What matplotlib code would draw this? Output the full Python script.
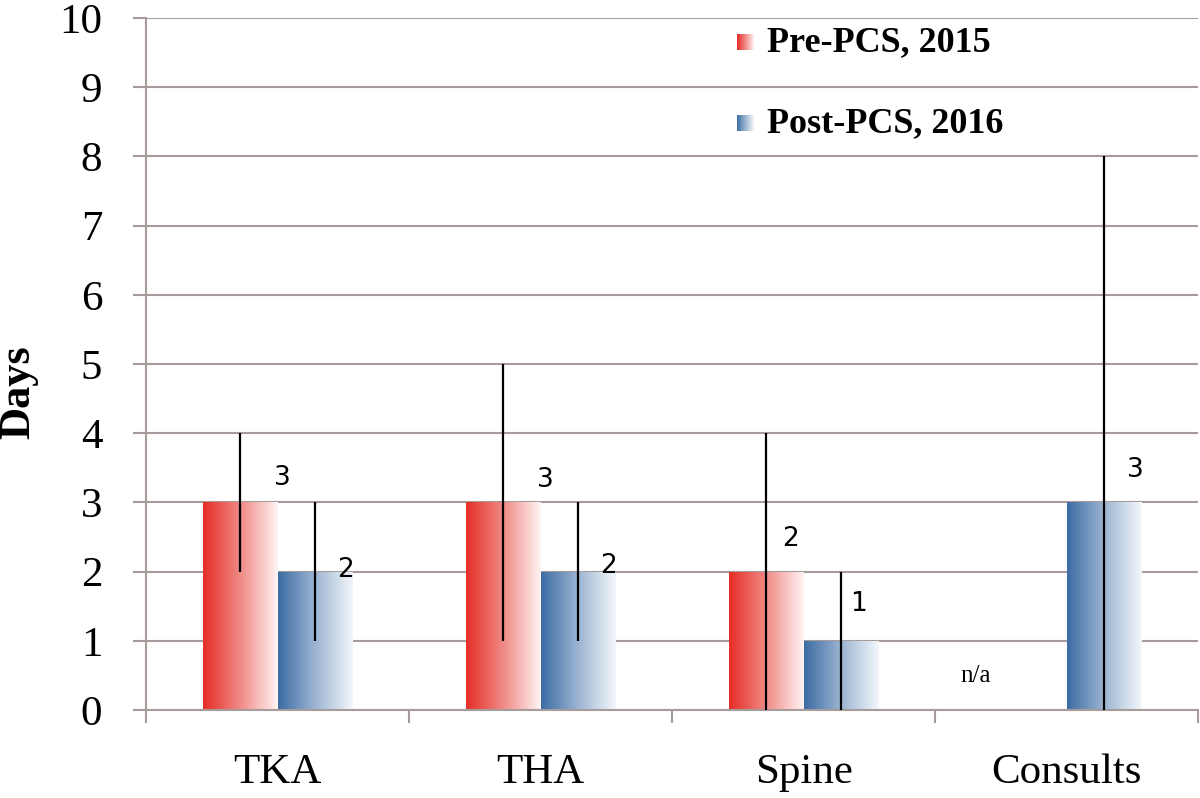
import numpy as np
import matplotlib
matplotlib.use("Agg")
import matplotlib.pyplot as plt
from matplotlib.colors import LinearSegmentedColormap

# data
categories = ["TKA", "THA", "Spine", "Consults"]
pre_vals = [3, 3, 2, np.nan]
post_vals = [2, 2, 1, 3]
pre_low = [2, 1, 0, np.nan]
pre_high = [4, 5, 4, np.nan]
post_low = [1, 1, 0, 0]
post_high = [3, 3, 2, 8]
pre_labels = ["3", "3", "2", "n/a"]
post_labels = ["2", "2", "1", "3"]

# where the value labels sit (hand placed in the original)
pre_lab_dx = [0.02, 0.02, -0.05, -0.344]
pre_lab_y = [3.35, 3.32, 2.47, 0.49]
post_lab_dx = [0.26, 0.26, 0.21, 0.26]
post_lab_y = [2.03, 2.08, 1.53, 3.47]

red_cmap = LinearSegmentedColormap.from_list("r", ["#e62d26", "#f08a86", "#fff4f4"])
blue_cmap = LinearSegmentedColormap.from_list("b", ["#3c6ca4", "#9db5d2", "#f4f7fb"])
grad = np.linspace(0, 1, 256).reshape(1, -1)

serif = ["Liberation Serif", "DejaVu Serif"]
grid_col = "#a89c9a"

fig = plt.figure(figsize=(12, 7.98), dpi=100)
ax = fig.add_axes([0.1217, 0.1103, 0.8767, 0.8671])

x = np.arange(len(categories))
w = 0.285


def grad_bars(xpos, vals, cmap):
    bars = ax.bar(xpos, vals, w, color="none", edgecolor="none", zorder=2)
    for b, v in zip(bars, vals):
        if np.isnan(v):
            continue
        im = ax.imshow(grad, cmap=cmap, aspect="auto", zorder=2,
                       extent=[b.get_x(), b.get_x() + b.get_width(), 0, v])
        im.set_clip_path(b)
    return bars


grad_bars(x - w / 2, pre_vals, red_cmap)
grad_bars(x + w / 2, post_vals, blue_cmap)

# range lines
ax.vlines(x - w / 2, pre_low, pre_high, color="black", lw=1.6, zorder=3)
ax.vlines(x + w / 2, post_low, post_high, color="black", lw=1.6, zorder=3)

for i in range(len(categories)):
    if pre_labels[i] == "n/a":
        ax.text(x[i] + pre_lab_dx[i], pre_lab_y[i], "n/a", ha="center", va="center",
                fontsize=18, family=serif, zorder=4)
    else:
        ax.text(x[i] + pre_lab_dx[i], pre_lab_y[i], pre_labels[i], ha="center",
                va="center", fontsize=19, zorder=4)
    ax.text(x[i] + post_lab_dx[i], post_lab_y[i], post_labels[i], ha="center",
            va="center", fontsize=19, zorder=4)

ax.set_yticks(range(0, 11))
ax.yaxis.grid(True, color=grid_col, lw=1.5, zorder=1)
ax.set_axisbelow(True)
ax.tick_params(axis="y", length=9.5, width=1.5, color=grid_col, labelsize=31, pad=22)
for t in ax.get_yticklabels():
    t.set_family(serif)

ax.set_xticks(x)
ax.set_xticklabels(categories, fontsize=31, family=serif)
ax.set_xticks(np.arange(-0.5, 3.6, 1), minor=True)
ax.tick_params(axis="x", which="major", length=0, pad=31)
ax.tick_params(axis="x", which="minor", length=9.5, width=1.5, color=grid_col)

for s in ["top", "right"]:
    ax.spines[s].set_visible(False)
ax.spines["left"].set_color(grid_col)
ax.spines["bottom"].set_color(grid_col)
ax.spines["left"].set_linewidth(1.5)
ax.spines["bottom"].set_linewidth(1.5)

ax.set_ylabel("Days", fontsize=32, fontweight="bold", family=serif)
ax.yaxis.set_label_coords(-0.102, 0.46)

# legend with gradient swatches
leg = [("Pre-PCS, 2015", red_cmap, 0.965), ("Post-PCS, 2016", blue_cmap, 0.848)]
for txt, cmap, yy in leg:
    ax.imshow(grad, cmap=cmap, aspect="auto", transform=ax.transAxes, zorder=5,
              extent=[0.562, 0.578, yy - 0.011, yy + 0.011])
    ax.text(0.590, yy, txt, transform=ax.transAxes, fontsize=26, fontweight="bold",
            family=serif, va="center", zorder=5)
ax.set_xlim(-0.5, 3.5)
ax.set_ylim(0, 10)

fig.savefig("out.png", dpi=100)
